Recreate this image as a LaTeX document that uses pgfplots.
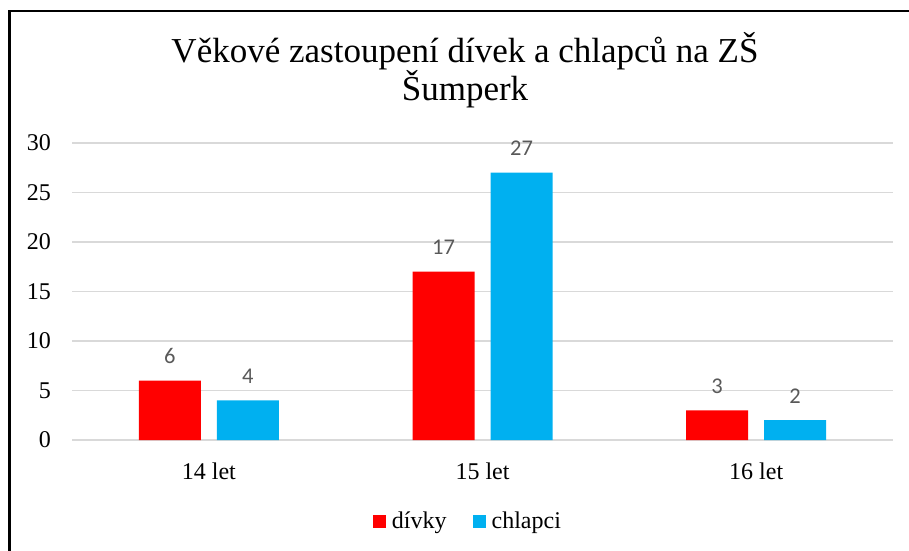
\documentclass[border=0pt]{standalone}
\usepackage{fontspec}
\setmainfont{Liberation Serif}
\newfontfamily\carlito{Carlito}
\usepackage{pgfplots}
\pgfplotsset{compat=1.18}
\definecolor{cred}{HTML}{FF0000}
\definecolor{cblue}{HTML}{00B0F0}
\definecolor{gridgray}{HTML}{D9D9D9}
\definecolor{lblgray}{HTML}{595959}
\begin{document}
\begin{tikzpicture}
\path[use as bounding box] (0pt,0pt) rectangle (909pt,550pt);
\draw[line width=2.5pt] (9.5pt,-20pt) -- (9.5pt,539pt) -- (930pt,539pt);
\node[anchor=base,inner sep=0pt,font=\fontsize{35}{40}\selectfont] at (465pt,487.3pt) {Věkové zastoupení dívek a chlapců na ZŠ};
\node[anchor=base,inner sep=0pt,font=\fontsize{35}{40}\selectfont] at (465pt,449pt) {Šumperk};
\begin{axis}[
  at={(72pt,110pt)}, anchor=south west,
  scale only axis, width=821pt, height=297pt,
  xmin=-0.5, xmax=2.5, ymin=0, ymax=30,
  ybar=16pt, bar width=62pt,
  xtick={0,1,2}, xticklabels={14 let,15 let,16 let},
  ytick={0,5,10,15,20,25,30},
  /pgf/number format/assume math mode=true,
  major tick length=0pt,
  axis line style={draw=none},
  ymajorgrids, grid style={draw=gridgray, line width=1.2pt},
  tick label style={font=\fontsize{24}{28}\selectfont, text=black},
  yticklabel style={inner sep=0pt, xshift=-21pt},
  xticklabel style={inner sep=0pt, yshift=-23pt},
  nodes near coords,
  every node near coord/.append style={inner sep=0pt, yshift=16.7pt, font=\carlito\fontsize{22.5}{26}\selectfont, text=lblgray},
  legend style={at={(0.4823,-0.2727)}, anchor=center, draw=none, fill=none,
    font=\fontsize{24}{28}\selectfont, legend columns=2,
    /tikz/every even column/.append style={column sep=24pt}},
  legend cell align=left,
]
\addplot[fill=cred, draw=none, legend image code/.code={\fill[cred] (0pt,-6.5pt) rectangle (13pt,6.5pt); \path (17pt,0pt);}] coordinates {(0,6) (1,17) (2,3)};
\addplot[fill=cblue, draw=none, legend image code/.code={\fill[cblue] (0pt,-6.5pt) rectangle (13pt,6.5pt); \path (17pt,0pt);}] coordinates {(0,4) (1,27) (2,2)};
\legend{dívky,chlapci}
\end{axis}
\end{tikzpicture}
\end{document}
